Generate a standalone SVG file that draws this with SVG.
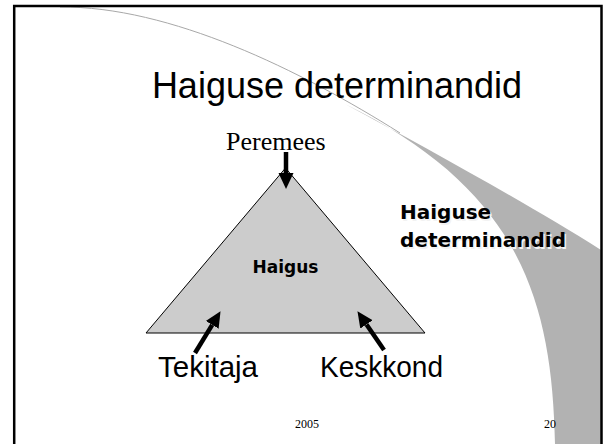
<svg xmlns="http://www.w3.org/2000/svg" width="603" height="444" viewBox="0 0 603 444">
<defs>
<style>
.title{font-family:"Liberation Sans",Arial,sans-serif;font-size:36px;fill:#000}
.serif{font-family:"Liberation Serif","Times New Roman",serif;fill:#000}
.bold{font-family:"DejaVu Sans",Verdana,sans-serif;font-weight:bold;fill:#000}
.shadow{font-family:"DejaVu Sans",Verdana,sans-serif;font-weight:bold;fill:#f2f2f2}
.big{font-family:"Liberation Sans",Arial,sans-serif;font-size:29px;fill:#000}
.arrow{stroke:#000;stroke-width:4.5;fill:none;marker-end:url(#head)}
</style>
<marker id="head" viewBox="0 -8 16 16" refX="0" refY="0" markerWidth="16" markerHeight="16" markerUnits="userSpaceOnUse" orient="auto">
<path d="M0,-7.5 L16,0 L0,7.5 Z" fill="#000"/>
</marker>
</defs>
<rect x="0" y="0" width="603" height="444" fill="#fff"/>
<g id="swoosh">
<path d="M60,7 C170,6 300,70 400,133" fill="none" stroke="#a8a8a8" stroke-width="1"/>
<path d="M345,104 C430,150 530,205 601,250 L601,444 L555,444 C552,300 520,190 345,104 Z" fill="#b2b2b2"/>
</g>
<rect id="frame" x="14.2" y="6" width="587.3" height="460" fill="none" stroke="#000" stroke-width="2.5"/>
<g id="title"><text class="title" x="337" y="98" text-anchor="middle">Haiguse determinandid</text></g>
<g id="haigus">
<polygon points="285.5,168 146,333 425,333" fill="#cccccc" stroke="#000" stroke-width="1"/>
<text class="bold" x="285.5" y="273" font-size="17" text-anchor="middle">Haigus</text>
</g>
<g id="peremees"><text class="serif" x="226" y="150" font-size="26">Peremees</text></g>
<g id="tekitaja"><text class="big" x="158" y="377" textLength="100" lengthAdjust="spacingAndGlyphs">Tekitaja</text></g>
<g id="keskkond"><text class="big" x="320" y="377" textLength="123" lengthAdjust="spacingAndGlyphs">Keskkond</text></g>
<g id="label">
<text class="shadow" x="401.5" y="220.5" font-size="20">Haiguse</text>
<text class="shadow" x="401.5" y="248.5" font-size="20">determinandid</text>
<text class="bold" x="400" y="219" font-size="20">Haiguse</text>
<text class="bold" x="400" y="247" font-size="20">determinandid</text>
</g>
<g id="connectors">
<line class="arrow" x1="286" y1="152" x2="286" y2="173"/>
<line class="arrow" x1="195" y1="353" x2="212.2" y2="324.8"/>
<line class="arrow" x1="384" y1="350" x2="366.5" y2="324.4"/>
</g>
<g id="footer">
<text class="serif" x="307" y="428" font-size="12" text-anchor="middle">2005</text>
<text class="serif" x="544" y="428" font-size="12">20</text>
</g>
</svg>
